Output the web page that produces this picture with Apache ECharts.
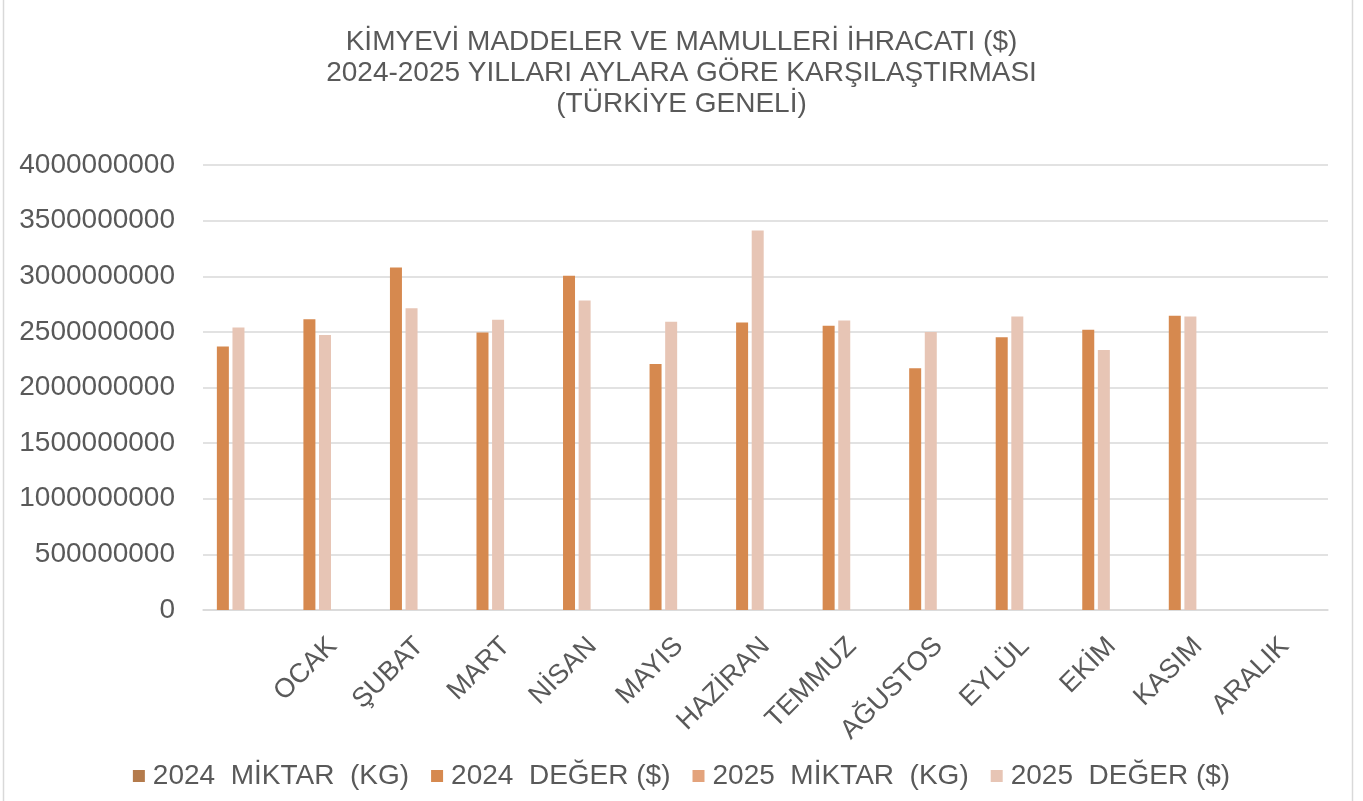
<!DOCTYPE html>
<html>
<head>
<meta charset="utf-8">
<script src="https://cdn.jsdelivr.net/npm/echarts@6/dist/echarts.min.js"></script>
<style>
  html, body { margin: 0; padding: 0; background: #ffffff; }
  #chart { width: 1363px; height: 801px; }
</style>
</head>
<body>
<div id="chart"></div>
<script>
// Category axis: the first slot carries no label, ARALIK has no data yet
const months = ['', 'OCAK', 'ŞUBAT', 'MART', 'NİSAN', 'MAYIS', 'HAZİRAN', 'TEMMUZ', 'AĞUSTOS', 'EYLÜL', 'EKİM', 'KASIM', 'ARALIK'];

const seriesNames = ['2024  MİKTAR  (KG)', '2024  DEĞER ($)', '2025  MİKTAR  (KG)', '2025  DEĞER ($)'];

// Export values per month
const value2024 = [2368000000, 2614000000, 3078000000, 2494000000, 3004000000, 2212000000, 2584000000, 2554000000, 2174000000, 2452000000, 2518000000, 2644000000, null];
const value2025 = [2539000000, 2473000000, 2713000000, 2608000000, 2782000000, 2590000000, 3411000000, 2602000000, 2500000000, 2638000000, 2338000000, 2638000000, null];
// Quantity series carry no values on this chart
const quantity2024 = [null, null, null, null, null, null, null, null, null, null, null, null, null];
const quantity2025 = [null, null, null, null, null, null, null, null, null, null, null, null, null];

const yTicks = { min: 0, max: 4000000000, interval: 500000000 };

const colors = {
  q2024: '#b47b4c',
  v2024: '#d6894f',
  q2025: '#e3a37c',
  v2025: '#e7c5b5'
};

const textColor = '#595959';
const font = 'Liberation Sans, Arial, sans-serif';

const chart = echarts.init(document.getElementById('chart'), null, { renderer: 'canvas' });

function barSeries(name, data, color) {
  return {
    name: name,
    type: 'bar',
    data: data,
    barWidth: 12,
    barGap: '30%',
    itemStyle: { color: color },
    emphasis: { disabled: true }
  };
}

chart.setOption({
  backgroundColor: '#ffffff',
  animation: false,
  title: {
    text: 'KİMYEVİ MADDELER VE MAMULLERİ İHRACATI ($)\n2024-2025 YILLARI AYLARA GÖRE KARŞILAŞTIRMASI\n(TÜRKİYE GENELİ)',
    left: 'center',
    top: 22,
    textStyle: {
      color: textColor,
      fontFamily: font,
      fontWeight: 'normal',
      fontSize: 28,
      lineHeight: 31
    }
  },
  legend: {
    data: seriesNames,
    left: 'center',
    top: 757,
    icon: 'rect',
    itemWidth: 12,
    itemHeight: 12,
    itemGap: 22,
    textStyle: {
      color: textColor,
      fontFamily: font,
      fontSize: 28,
      padding: [0, 0, 0, 3]
    }
  },
  graphic: [{
    type: 'rect',
    shape: { x: 3.5, y: -5, width: 1349, height: 820 },
    style: { fill: 'none', stroke: '#d9d9d9', lineWidth: 1.5 },
    silent: true
  }],
  grid: {
    left: 203,
    right: 35,
    top: 165,
    bottom: 191,
    containLabel: false
  },
  xAxis: {
    type: 'category',
    data: months,
    axisLine: { show: true, lineStyle: { color: '#d9d9d9', width: 1.5 } },
    axisTick: { show: false },
    axisLabel: {
      rotate: 45,
      interval: 0,
      margin: 32,
      color: textColor,
      fontFamily: font,
      fontSize: 27
    },
    splitLine: { show: false }
  },
  yAxis: {
    type: 'value',
    min: yTicks.min,
    max: yTicks.max,
    interval: yTicks.interval,
    axisLine: { show: false },
    axisTick: { show: false },
    axisLabel: {
      margin: 28,
      color: textColor,
      fontFamily: font,
      fontSize: 28,
      formatter: function (v) { return String(v); }
    },
    splitLine: { lineStyle: { color: '#d9d9d9', width: 1.5 } }
  },
  series: [
    barSeries(seriesNames[1], value2024, colors.v2024),
    barSeries(seriesNames[3], value2025, colors.v2025),
    barSeries(seriesNames[0], quantity2024, colors.q2024),
    barSeries(seriesNames[2], quantity2025, colors.q2025)
  ]
});
</script>
</body>
</html>
